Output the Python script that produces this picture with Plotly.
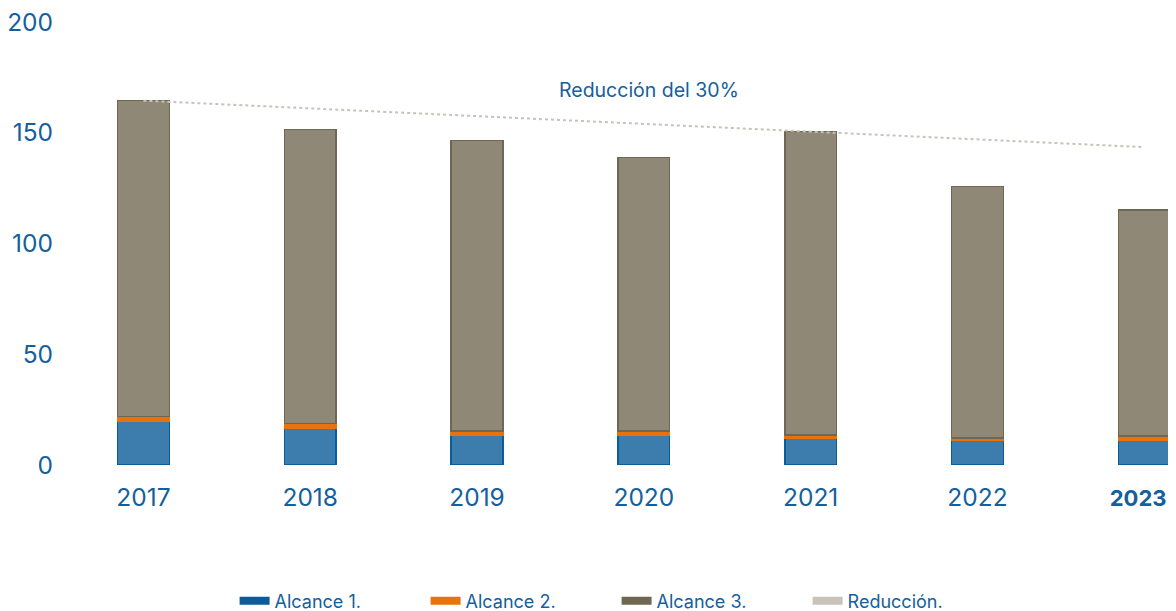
import plotly.graph_objects as go

years = ["2017", "2018", "2019", "2020", "2021", "2022", "2023"]
alcance1 = [19.9, 16.6, 13.6, 13.6, 12.1, 11.1, 11.2]
alcance2 = [2.1, 2.1, 1.8, 1.8, 1.5, 1.2, 1.9]
alcance3 = [142.5, 132.8, 131.1, 123.5, 137.0, 113.5, 102.0]
reduccion = [164.5, 161.0, 157.5, 154.0, 150.5, 147.0, 143.5]
tick_labels = ["2017", "2018", "2019", "2020", "2021", "2022",
               "<span style='font-size:22px'><b>2023</b>\u00a0\u00a0</span>"]

BLUE = "#0b5c9a"
ORANGE = "#e8730c"
KHAKI = "#6f6751"
LIGHT = "#c9c2bb"
TXT = "#14609c"
FONT = "Inter"

fig = go.Figure()

series = [
    ("Alcance 1.", alcance1, BLUE, "rgba(11,92,154,0.8)"),
    ("Alcance 2.", alcance2, ORANGE, "rgba(232,115,12,1)"),
    ("Alcance 3.", alcance3, KHAKI, "rgba(112,103,80,0.78)"),
]
for name, vals, line_col, fill in series:
    fig.add_trace(go.Bar(x=years, y=vals, name=name, width=0.31,
                         marker=dict(color=fill, line=dict(color=line_col, width=1.5)),
                         showlegend=False))

fig.add_trace(go.Scatter(x=years, y=reduccion, mode="lines", name="Reducción.",
                         line=dict(color=LIGHT, width=2, dash="dot"), showlegend=False))

# legend entries drawn as wide swatches
for name, col in [("Alcance 1.", BLUE), ("Alcance 2.", ORANGE), ("Alcance 3.", KHAKI), ("Reducción.", LIGHT)]:
    fig.add_trace(go.Scatter(x=[None], y=[None], mode="lines", name=name,
                             line=dict(color=col, width=8)))

fig.add_annotation(x=3.03, y=169.5, text="Reducción del 30%", showarrow=False,
                   font=dict(family=FONT, size=19.5, color=TXT))

# page body adds an 8px offset, so the figure is sized to fit the window
fig.update_layout(
    barmode="stack",
    width=1168, height=603,
    margin=dict(l=52, r=0, t=14, b=146),
    plot_bgcolor="white", paper_bgcolor="white",
    font=dict(family=FONT, size=24.5, color=TXT),
    legend=dict(orientation="h", xref="container", yref="container",
                x=0.194, xanchor="left", y=0.0166, yanchor="middle",
                traceorder="normal", entrywidth=146, entrywidthmode="pixels", itemwidth=30,
                font=dict(family=FONT, size=18, color=TXT)),
)
fig.update_xaxes(type="category", range=[-0.5, 6.19], tickvals=years, ticktext=tick_labels,
                 showgrid=False, showline=False, zeroline=False, ticks="",
                 ticklabelstandoff=15, automargin=False)
fig.update_yaxes(range=[0, 200], tickvals=[0, 50, 100, 150, 200], showgrid=False,
                 zeroline=False, showline=False, ticks="", ticklabelstandoff=6,
                 ticklabeloverflow="allow", automargin=False)

fig.write_html("out.html")
